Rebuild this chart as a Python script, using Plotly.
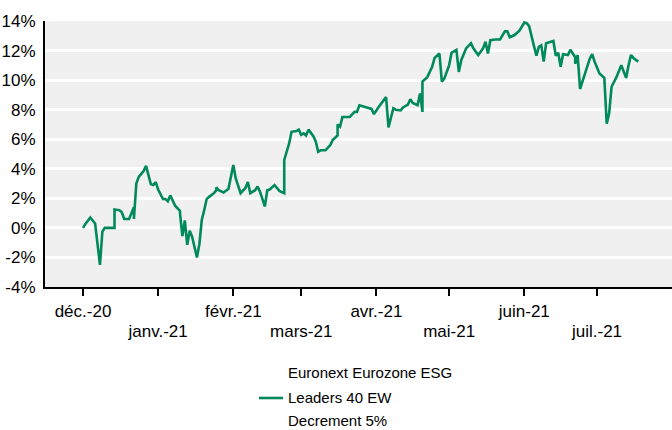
import plotly.graph_objects as go

# ---- data ----
dates = [
    "2020-12-01", "2020-12-02", "2020-12-04", "2020-12-05", "2020-12-06", "2020-12-08", "2020-12-09", "2020-12-10",
    "2020-12-13", "2020-12-14", "2020-12-14", "2020-12-16", "2020-12-17", "2020-12-18", "2020-12-20", "2020-12-22",
    "2020-12-22", "2020-12-23", "2020-12-24", "2020-12-26", "2020-12-27", "2020-12-29", "2020-12-30", "2020-12-31",
    "2021-01-01", "2021-01-03", "2021-01-04", "2021-01-05", "2021-01-06", "2021-01-07", "2021-01-08", "2021-01-10",
    "2021-01-10", "2021-01-11", "2021-01-12", "2021-01-12", "2021-01-13", "2021-01-14", "2021-01-15", "2021-01-17",
    "2021-01-18", "2021-01-19", "2021-01-20", "2021-01-21", "2021-01-22", "2021-01-24", "2021-01-25", "2021-01-25",
    "2021-01-26", "2021-01-27", "2021-01-28", "2021-01-30", "2021-02-01", "2021-02-02", "2021-02-04", "2021-02-06",
    "2021-02-07", "2021-02-08", "2021-02-10", "2021-02-11", "2021-02-12", "2021-02-14", "2021-02-15", "2021-02-16",
    "2021-02-18", "2021-02-20", "2021-02-22", "2021-02-22", "2021-02-23", "2021-02-24", "2021-02-25", "2021-02-27",
    "2021-02-28", "2021-03-01", "2021-03-02", "2021-03-03", "2021-03-04", "2021-03-06", "2021-03-07", "2021-03-08",
    "2021-03-09", "2021-03-11", "2021-03-13", "2021-03-14", "2021-03-16", "2021-03-16", "2021-03-17", "2021-03-18",
    "2021-03-21", "2021-03-23", "2021-03-24", "2021-03-25", "2021-03-27", "2021-03-30", "2021-03-31", "2021-04-02",
    "2021-04-05", "2021-04-06", "2021-04-08", "2021-04-09", "2021-04-11", "2021-04-12", "2021-04-14", "2021-04-15",
    "2021-04-16", "2021-04-18", "2021-04-19", "2021-04-20", "2021-04-20", "2021-04-22", "2021-04-24", "2021-04-25",
    "2021-04-27", "2021-04-28", "2021-04-29", "2021-05-01", "2021-05-02", "2021-05-04", "2021-05-05", "2021-05-06",
    "2021-05-08", "2021-05-10", "2021-05-11", "2021-05-13", "2021-05-15", "2021-05-16", "2021-05-17", "2021-05-18",
    "2021-05-20", "2021-05-22", "2021-05-24", "2021-05-25", "2021-05-26", "2021-05-28", "2021-05-30", "2021-06-01",
    "2021-06-02", "2021-06-03", "2021-06-05", "2021-06-06", "2021-06-07", "2021-06-08", "2021-06-09", "2021-06-10",
    "2021-06-13", "2021-06-14", "2021-06-15", "2021-06-16", "2021-06-17", "2021-06-19", "2021-06-20", "2021-06-22",
    "2021-06-22", "2021-06-23", "2021-06-24", "2021-06-26", "2021-06-28", "2021-06-29", "2021-06-30", "2021-07-02",
    "2021-07-03", "2021-07-04", "2021-07-05", "2021-07-06", "2021-07-07", "2021-07-09", "2021-07-11", "2021-07-13",
    "2021-07-14", "2021-07-15", "2021-07-16", "2021-07-18",
]
values = [
    0.0, 0.27, 0.7, 0.5, 0.3, -2.5, -0.25, 0.0,
    0.0, 0.0, 1.25, 1.2, 1.05, 0.6, 0.6, 1.4,
    0.6, 3.0, 3.45, 3.85, 4.2, 2.95, 2.9, 3.1,
    2.6, 1.95, 1.95, 1.8, 2.2, 1.8, 1.5, 1.15,
    1.0, -0.55, 0.4, 0.5, -1.15, -0.2, -0.6, -2.0,
    -1.1, 0.55, 1.2, 1.95, 2.1, 2.35, 2.55, 2.75,
    2.55, 2.5, 2.4, 2.65, 4.25, 3.35, 2.35, 2.7,
    3.1, 2.35, 2.55, 2.8, 2.45, 1.45, 2.55, 2.6,
    2.9, 2.5, 2.35, 4.6, 5.15, 5.7, 6.5, 6.55,
    6.65, 6.3, 6.4, 6.25, 6.65, 6.2, 5.85, 5.15,
    5.25, 5.25, 5.6, 5.95, 6.25, 7.0, 6.85, 7.5,
    7.5, 7.85, 7.85, 8.3, 8.2, 8.05, 7.7, 8.2,
    8.85, 6.8, 8.1, 8.0, 7.95, 8.15, 8.35, 8.7,
    8.45, 8.3, 9.1, 7.85, 9.9, 10.2, 10.9, 11.5,
    11.8, 9.9, 10.1, 11.0, 11.85, 12.05, 10.55, 11.35,
    12.15, 12.5, 12.15, 11.7, 12.15, 12.6, 11.8, 12.7,
    12.75, 12.75, 13.3, 13.3, 12.9, 13.05, 13.35, 13.9,
    13.85, 13.65, 12.3, 11.65, 12.25, 12.35, 11.25, 12.5,
    12.65, 11.65, 11.85, 10.9, 11.75, 11.7, 12.05, 11.55,
    11.1, 11.7, 9.4, 10.35, 11.45, 11.75, 11.25, 10.45,
    10.3, 10.15, 7.05, 7.75, 9.55, 10.2, 11.0, 10.15,
    11.0, 11.7, 11.5, 11.25,
]
series_name = ["Euronext Eurozone ESG", "Leaders 40 EW", "Decrement 5%"]

month_ticks = ["2020-12-01", "2021-01-01", "2021-02-01", "2021-03-01",
               "2021-04-01", "2021-05-01", "2021-06-01", "2021-07-01"]
month_labels = ["déc.-20", "janv.-21", "févr.-21", "mars-21",
                "avr.-21", "mai-21", "juin-21", "juil.-21"]
y_ticks = [-4, -2, 0, 2, 4, 6, 8, 10, 12, 14]
y_labels = ["-4%", "-2%", "0%", "2%", "4%", "6%", "8%", "10%", "12%", "14%"]

GREEN = "#00895A"
FONT = "Arial, Liberation Sans, sans-serif"
TICK_SIZE = 17
LEG_SIZE = 15
x_range = ["2020-11-15 08:00", "2021-07-31 22:00"]

fig = go.Figure()
fig.add_trace(go.Scatter(
    x=dates, y=values, mode="lines",
    line=dict(color=GREEN, width=2.6),
    name=" ".join(series_name), showlegend=False,
))
# empty helper trace so the second (staggered label) axis is rendered
fig.add_trace(go.Scatter(x=[], y=[], xaxis="x2", showlegend=False, hoverinfo="skip"))

row1 = [lab if i % 2 == 0 else "" for i, lab in enumerate(month_labels)]
row2_vals = [t for i, t in enumerate(month_ticks) if i % 2 == 1]
row2_text = [lab for i, lab in enumerate(month_labels) if i % 2 == 1]

tickfont = dict(family=FONT, size=TICK_SIZE, color="black")

fig.update_layout(
    width=672, height=430,
    margin=dict(l=45, r=0, t=21, b=143, autoexpand=False),
    paper_bgcolor="white", plot_bgcolor="#F0F0F0",
    font=dict(family=FONT, size=TICK_SIZE, color="black"),
    xaxis=dict(
        type="date", range=x_range, automargin=False,
        tickmode="array", tickvals=month_ticks, ticktext=row1,
        ticks="outside", ticklen=7, tickwidth=2, tickcolor="black",
        showline=True, linecolor="black", linewidth=2,
        showgrid=False, zeroline=False, ticklabelstandoff=1,
        tickfont=tickfont,
    ),
    xaxis2=dict(
        type="date", range=x_range, overlaying="x", anchor="y", side="bottom",
        matches="x", automargin=False,
        tickmode="array", tickvals=row2_vals, ticktext=row2_text,
        ticks="", showline=False, showgrid=False, zeroline=False,
        ticklabelstandoff=32,
        tickfont=tickfont,
    ),
    yaxis=dict(
        range=[-4, 14], tickmode="array", tickvals=y_ticks, ticktext=y_labels,
        automargin=False,
        showgrid=True, gridcolor="white", gridwidth=2.6,
        showline=True, linecolor="black", linewidth=2,
        ticks="", zeroline=False, ticklabelstandoff=4,
        tickfont=tickfont,
    ),
    showlegend=False,
)

# manual legend matching the reference's three-line label
leg_x = (287 - 45) / 627
for txt, ypx in zip(series_name, [372, 397, 420]):
    fig.add_annotation(
        text=txt, xref="paper", yref="paper",
        x=leg_x, y=(287 - ypx) / 266, xanchor="left", yanchor="middle",
        showarrow=False, borderpad=0,
        font=dict(family=FONT, size=LEG_SIZE, color="black"),
    )
fig.add_shape(
    type="line", xref="paper", yref="paper",
    x0=(259 - 45) / 627, x1=(283 - 45) / 627,
    y0=(287 - 398) / 266, y1=(287 - 398) / 266,
    line=dict(color=GREEN, width=2.6),
)

fig.write_html("out.html", config={"displayModeBar": False},
               post_script="document.body.style.margin='0';")
